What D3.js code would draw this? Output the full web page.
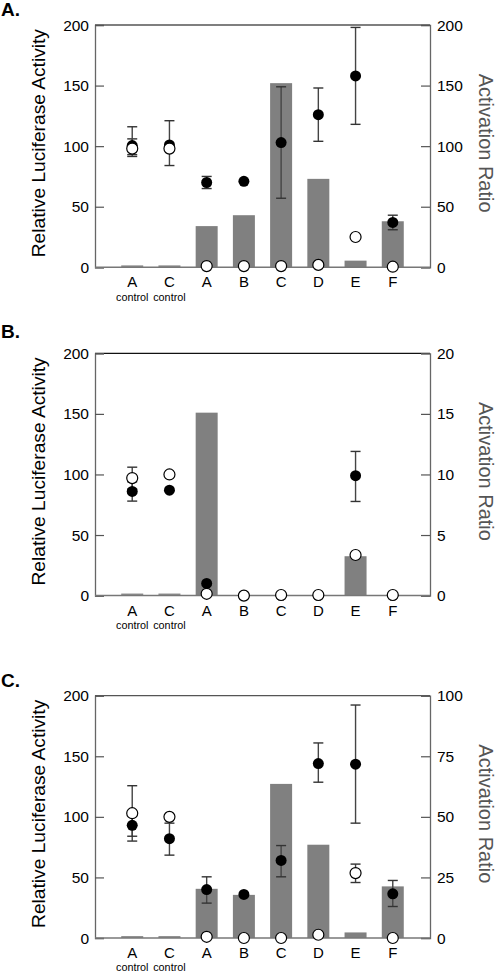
<!DOCTYPE html>
<html><head><meta charset="utf-8">
<script src="https://cdn.jsdelivr.net/npm/d3@7"></script>
<style>body{margin:0;background:#fff}svg{display:block}text{font-family:"Liberation Sans",Arial,sans-serif}</style>
</head><body><svg id="c" width="497" height="976"></svg>
<script>
const categories = ["A","C","A","B","C","D","E","F"];
const subLabels = ["control","control","","","","","",""];
const leftTicks = [0,50,100,150,200];

// Panel A
const barsA = [1.6, 1.6, 34, 43, 152, 73, 5.5, 38];
const filledA = [100.5, 101, 70, 71, 103, 126, 158, 37];
const filledLoA = [91.5, 84, 65, null, 57, 104, 118, 31];
const filledHiA = [116, 121, 75, null, 149, 148, 198, 43];
const openA = [98, 98, 1, 1, 1, 2, 25, 0.5];
const openLoA = [93, null, null, null, null, null, null, null];
const openHiA = [106, null, null, null, null, null, null, null];
const rightTicksA = [0,50,100,150,200];

// Panel B
const barsB = [0.17, 0.17, 15.1, 0, 0, 0, 3.25, 0];
const filledB = [86, 87, 10, 0, 0, 0, 99, 0];
const filledLoB = [78, null, null, null, null, null, 77.7, null];
const filledHiB = [94, null, null, null, null, null, 119, null];
const openB = [97, 100, 1.5, 0, 0.5, 0.5, 33.5, 0.5];
const openLoB = [88, null, null, null, null, null, null, null];
const openHiB = [106, null, null, null, null, null, null, null];
const rightTicksB = [0,5,10,15,20];

// Panel C
const barsC = [0.8, 0.8, 20.3, 17.8, 63.6, 38.5, 2.3, 21.3];
const filledC = [93, 82, 40, 36, 64, 144, 143.5, 36.5];
const filledLoC = [84, 68.4, 28.8, null, 50.5, 128.6, 94.8, 26];
const filledHiC = [102.5, 94.8, 50.5, null, 76.3, 161, 192.3, 47.5];
const openC = [103, 100, 1, 0, 0, 2.7, 53.6, 0];
const openLoC = [80, null, null, null, null, null, 45.8, null];
const openHiC = [125.7, null, null, null, null, null, 61, null];
const rightTicksC = [0,25,50,75,100];

const panels = [
  {label:"A.", top:25, labelY:16, bars:barsA, rmax:200, rticks:rightTicksA, filled:filledA, fLo:filledLoA, fHi:filledHiA, open:openA, oLo:openLoA, oHi:openHiA},
  {label:"B.", top:353.3, labelY:338, bars:barsB, rmax:20, rticks:rightTicksB, filled:filledB, fLo:filledLoB, fHi:filledHiB, open:openB, oLo:openLoB, oHi:openHiB},
  {label:"C.", top:695.7, labelY:687, bars:barsC, rmax:100, rticks:rightTicksC, filled:filledC, fLo:filledLoC, fHi:filledHiC, open:openC, oLo:openLoC, oHi:openHiC}
];

const svg = d3.select("#c");
const L = 95, R = 430, H = 242.3;
const x = d3.scalePoint().domain(d3.range(categories.length)).range([L, R]).padding(1);
const barW = 22, r = 5.5, cap = 5;

panels.forEach(p => {
  const g = svg.append("g");
  const bottom = p.top + H;
  const yL = d3.scaleLinear().domain([0,200]).range([bottom, p.top]);
  const yR = d3.scaleLinear().domain([0,p.rmax]).range([bottom, p.top]);

  g.append("text").attr("x",1).attr("y",p.labelY).attr("font-size",19).attr("font-weight","bold").text(p.label);

  // bars
  g.selectAll("rect.bar").data(p.bars).join("rect")
    .attr("x",(d,i)=>x(i)-barW/2).attr("width",barW)
    .attr("y",d=>yR(d)).attr("height",d=>Math.max(0,bottom-yR(d)))
    .attr("fill",(d,i)=> i<2 ? "#8c8c8c" : "#808080");

  // frame
  g.append("line").attr("x1",L).attr("x2",R).attr("y1",p.top).attr("y2",p.top).attr("stroke",p.label==="B."?"#111":"#555").attr("stroke-width",1.3);

  // left axis
  const la = g.append("g").attr("transform",`translate(${L},0)`)
    .call(d3.axisRight(yL).tickValues(leftTicks).tickSize(9).tickFormat(""));
  la.select(".domain").attr("stroke","#666").attr("stroke-width",1.3);
  la.selectAll(".tick line").attr("stroke","#555").attr("stroke-width",1.2);
  leftTicks.forEach(t => {
    g.append("text").attr("x",L-6).attr("y",yL(t)).attr("dy","0.36em").attr("text-anchor","end").attr("font-size",15.5).text(t);
  });

  // right axis
  const ra = g.append("g").attr("transform",`translate(${R},0)`)
    .call(d3.axisLeft(yR).tickValues(p.rticks).tickSize(9).tickFormat(""));
  ra.select(".domain").attr("stroke","#666").attr("stroke-width",1.3);
  ra.selectAll(".tick line").attr("stroke","#555").attr("stroke-width",1.2);
  p.rticks.forEach(t => {
    g.append("text").attr("x",R+7).attr("y",yR(t)).attr("dy","0.36em").attr("text-anchor","start").attr("font-size",15.5).text(t);
  });

  // bottom line
  g.append("line").attr("x1",L).attr("x2",R).attr("y1",bottom).attr("y2",bottom).attr("stroke","#777").attr("stroke-width",1.5);

  // category labels
  categories.forEach((c,i)=>{
    g.append("text").attr("x",x(i)).attr("y",bottom+20).attr("text-anchor","middle").attr("font-size",15).text(c);
    if (subLabels[i]) g.append("text").attr("x",x(i)).attr("y",bottom+33.4).attr("text-anchor","middle").attr("font-size",10.8).text(subLabels[i]);
  });

  // axis titles
  const cy = p.top + H/2 - 3;
  g.append("text").attr("transform",`translate(44.5,${cy}) rotate(-90)`).attr("text-anchor","middle").attr("font-size",19.2).text("Relative Luciferase Activity");
  g.append("text").attr("transform",`translate(479,${cy}) rotate(90)`).attr("text-anchor","middle").attr("font-size",20).attr("fill","#555").text("Activation Ratio");

  // error bars
  function err(lo, hi) {
    lo.forEach((l,i)=>{
      if (l==null || hi[i]==null) return;
      const cx = x(i);
      g.append("line").attr("x1",cx).attr("x2",cx).attr("y1",yL(l)).attr("y2",yL(hi[i])).attr("stroke","#444").attr("stroke-width",1.4);
      [l,hi[i]].forEach(v=> g.append("line").attr("x1",cx-cap).attr("x2",cx+cap).attr("y1",yL(v)).attr("y2",yL(v)).attr("stroke","#333").attr("stroke-width",1.4));
    });
  }
  err(p.oLo, p.oHi);
  err(p.fLo, p.fHi);

  g.selectAll("circle.f").data(p.filled).join("circle").attr("class","f")
    .attr("cx",(d,i)=>x(i)).attr("cy",d=>yL(d)).attr("r",r).attr("fill","#000");
  g.selectAll("circle.o").data(p.open).join("circle").attr("class","o")
    .attr("cx",(d,i)=>x(i)).attr("cy",d=>yL(d)).attr("r",r).attr("fill","#fff").attr("stroke","#000").attr("stroke-width",1.2);
});
</script></body></html>
